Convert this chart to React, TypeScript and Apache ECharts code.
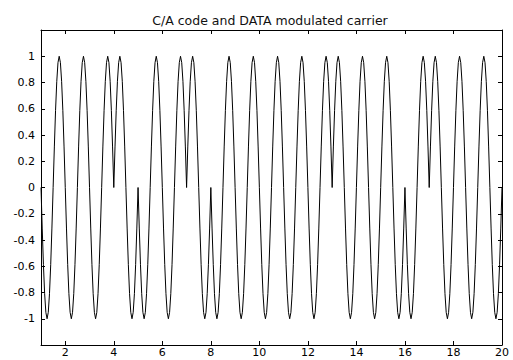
import React, { useEffect, useRef } from "react";
import * as echarts from "echarts";

// Sign of the combined C/A code and navigation data on each unit interval, t = 1..20
const chipSigns = [-1, -1, -1, 1, -1, -1, 1, -1, -1, -1, -1, -1, 1, 1, 1, -1, 1, 1, 1];

// One carrier period, sampled at 20 points
const carrierCycle = [
  0, 0.309, 0.588, 0.809, 0.951, 1, 0.951, 0.809, 0.588, 0.309,
  0, -0.309, -0.588, -0.809, -0.951, -1, -0.951, -0.809, -0.588, -0.309,
];

const tStart = 1;
const tEnd = 20;
const yMin = -1.2;
const yMax = 1.2;

const xTicks = [2, 4, 6, 8, 10, 12, 14, 16, 18, 20];
const yTicks = [-1, -0.8, -0.6, -0.4, -0.2, 0, 0.2, 0.4, 0.6, 0.8, 1];

const titleText = "C/A code and DATA modulated carrier";

function buildSignal(): [number, number][] {
  const pts: [number, number][] = [];
  const n = carrierCycle.length;
  chipSigns.forEach((s, k) => {
    carrierCycle.forEach((v, j) => {
      pts.push([tStart + k + j / n, s * v]);
    });
  });
  pts.push([tEnd, 0]);
  return pts;
}

const FONT = "DejaVu Sans";

export default function App() {
  const ref = useRef<HTMLDivElement>(null);

  useEffect(() => {
    if (!ref.current) return;
    const chart = echarts.init(ref.current, undefined, { renderer: "svg" });

    const axisLine = { show: true, onZero: false, lineStyle: { color: "#000", width: 1 } };
    const tickStyle = { color: "#000", width: 1 };

    chart.setOption({
      animation: false,
      backgroundColor: "#fff",
      title: {
        text: titleText,
        left: 265,
        textAlign: "center",
        top: 9,
        textStyle: { fontFamily: FONT, fontSize: 12.5, fontWeight: "normal", color: "#111" },
      },
      grid: { left: 41, right: 11, top: 30, bottom: 15, containLabel: false },
      xAxis: [
        {
          type: "value",
          min: tStart,
          max: tEnd,
          position: "bottom",
          axisLine,
          axisTick: { show: true, inside: true, length: 4, lineStyle: tickStyle, customValues: xTicks },
          axisLabel: {
            show: true,
            margin: 2,
            customValues: xTicks,
            fontFamily: FONT,
            fontSize: 11,
            color: "#000",
          },
          splitLine: { show: false },
        },
        {
          type: "value",
          min: tStart,
          max: tEnd,
          position: "top",
          axisLine,
          axisTick: { show: true, inside: true, length: 4, lineStyle: tickStyle, customValues: xTicks },
          axisLabel: { show: false },
          splitLine: { show: false },
        },
      ],
      yAxis: [
        {
          type: "value",
          min: yMin,
          max: yMax,
          position: "left",
          axisLine,
          axisTick: { show: true, inside: true, length: 4, lineStyle: tickStyle, customValues: yTicks },
          axisLabel: {
            show: true,
            margin: 6,
            customValues: yTicks,
            formatter: (v: number) => String(Math.round(v * 10) / 10),
            fontFamily: FONT,
            fontSize: 11,
            color: "#000",
          },
          splitLine: { show: false },
        },
        {
          type: "value",
          min: yMin,
          max: yMax,
          position: "right",
          axisLine,
          axisTick: { show: true, inside: true, length: 4, lineStyle: tickStyle, customValues: yTicks },
          axisLabel: { show: false },
          splitLine: { show: false },
        },
      ],
      series: [
        {
          type: "line",
          xAxisIndex: 0,
          yAxisIndex: 0,
          data: buildSignal(),
          showSymbol: false,
          symbol: "none",
          lineStyle: { color: "#000", width: 1 },
          clip: true,
        },
      ],
    });

    return () => chart.dispose();
  }, []);

  return (
    <div
      ref={ref}
      style={{ position: "fixed", left: 0, top: 0, width: 513, height: 360, background: "#fff" }}
    />
  );
}
